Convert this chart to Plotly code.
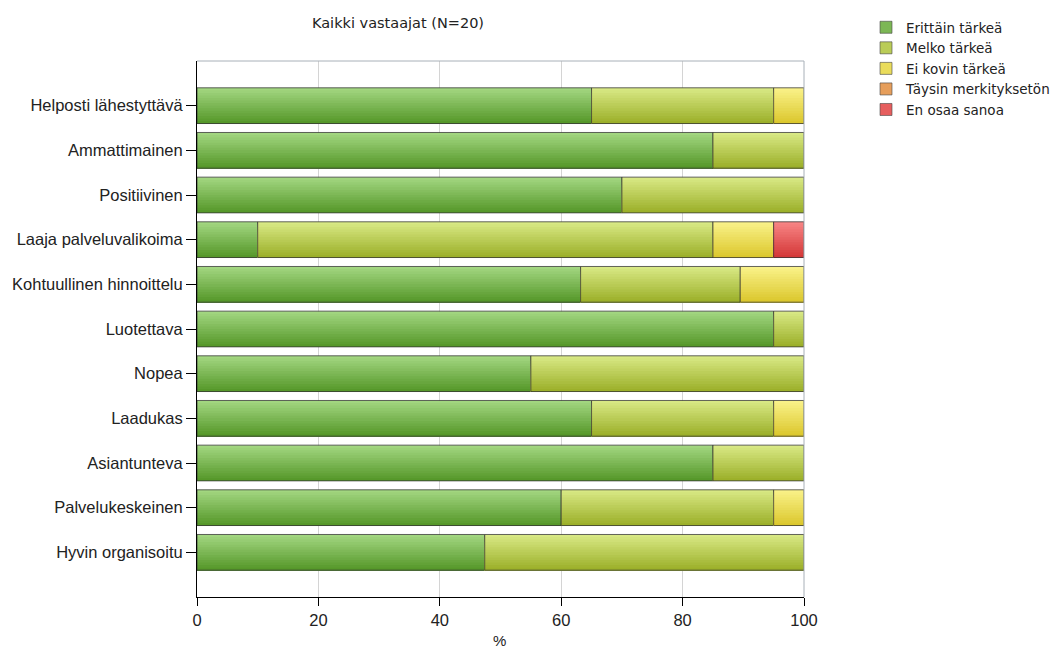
import plotly.graph_objects as go

categories = [
    "Helposti lähestyttävä", "Ammattimainen", "Positiivinen", "Laaja palveluvalikoima",
    "Kohtuullinen hinnoittelu", "Luotettava", "Nopea", "Laadukas", "Asiantunteva",
    "Palvelukeskeinen", "Hyvin organisoitu",
]
series_names = ["Erittäin tärkeä", "Melko tärkeä", "Ei kovin tärkeä", "Täysin merkityksetön", "En osaa sanoa"]
erittain = [65, 85, 70, 10, 63.2, 95, 55, 65, 85, 60, 47.4]
melko = [30, 15, 30, 75, 26.3, 5, 45, 30, 15, 35, 52.6]
ei_kovin = [5, 0, 0, 10, 10.5, 0, 0, 5, 0, 5, 0]
taysin = [0, 0, 0, 0, 0, 0, 0, 0, 0, 0, 0]
en_osaa = [0, 0, 0, 5, 0, 0, 0, 0, 0, 0, 0]
series_values = [erittain, melko, ei_kovin, taysin, en_osaa]
x_ticks = [0, 20, 40, 60, 80, 100]

# gradient colours (top, bottom) per series
top_cols = [(162, 214, 128), (216, 232, 132), (249, 241, 136), (244, 186, 122), (247, 132, 132)]
bot_cols = [(86, 152, 42), (156, 176, 42), (220, 200, 46), (216, 130, 60), (212, 56, 56)]

N_STRIPS = 14
BAR_W = 0.8
STEP = BAR_W / N_STRIPS

def mix(a, b, t):
    return "rgb(%d,%d,%d)" % tuple(round(a[k] + (b[k] - a[k]) * t) for k in range(3))

fig = go.Figure()
bases = [0.0] * len(categories)
for si, (name, vals) in enumerate(zip(series_names, series_values)):
    cur_base = list(bases)
    for k in range(N_STRIPS):
        t = k / (N_STRIPS - 1)
        fig.add_trace(go.Bar(
            y=categories, x=vals, base=cur_base, orientation="h",
            width=BAR_W - k * STEP, offset=-BAR_W / 2 + k * STEP,
            marker=dict(color=mix(top_cols[si], bot_cols[si], t), line=dict(width=0)),
            name=name, legendgroup=name, showlegend=False, hoverinfo="skip",
        ))
    # outline
    fig.add_trace(go.Bar(
        y=categories, x=[v if v > 0 else None for v in vals], base=cur_base, orientation="h",
        width=BAR_W, offset=-BAR_W / 2,
        marker=dict(color="rgba(0,0,0,0)", line=dict(width=1, color="rgba(50,50,50,0.75)")),
        name=name, legendgroup=name, showlegend=False,
    ))
    bases = [b + v for b, v in zip(bases, vals)]

# legend entries with solid colours
for si, name in enumerate(series_names):
    fig.add_trace(go.Bar(
        y=[None], x=[None], orientation="h", name=name, legendgroup=name,
        marker=dict(color=mix(top_cols[si], bot_cols[si], 0.5),
                    line=dict(width=1, color="rgba(70,70,70,0.6)")),
    ))

fig.update_layout(
    width=1064, height=650,
    margin=dict(l=197, r=260, t=61, b=53, autoexpand=False),
    barmode="overlay",
    plot_bgcolor="white", paper_bgcolor="white",
    showlegend=True,
    title=dict(text="Kaikki vastaajat (N=20)", x=398 / 1064, xanchor="center",
               y=1 - 23 / 650, yanchor="middle",
               font=dict(family="DejaVu Sans", size=14.5, color="#222222")),
    legend=dict(xref="container", yref="container", x=866 / 1064, xanchor="left",
                y=1 - 12 / 650, yanchor="top",
                font=dict(family="DejaVu Sans", size=13.5, color="#222222"),
                itemwidth=30, tracegroupgap=0, traceorder="normal",
                bgcolor="rgba(0,0,0,0)"),
    xaxis=dict(range=[0, 100], tickvals=x_ticks, ticktext=[str(v) for v in x_ticks],
               showgrid=True, gridcolor="#d4d4d4", gridwidth=1,
               showline=True, linecolor="#000000", linewidth=1, mirror=False,
               ticks="outside", ticklen=8, tickcolor="#000000",
               tickfont=dict(family="Liberation Sans", size=16.5, color="#222222"),
               zeroline=False, automargin=False),
    yaxis=dict(categoryorder="array", categoryarray=categories, range=[11, -1],
               showline=True, linecolor="#000000", linewidth=1,
               ticks="outside", ticklen=10, tickcolor="#000000",
               showgrid=False, zeroline=False, automargin=False,
               tickfont=dict(family="Liberation Sans", size=16.5, color="#222222")),
    annotations=[
        dict(text="%", xref="paper", yref="paper", x=0.499, y=0, yshift=-43,
             xanchor="center", yanchor="middle", showarrow=False,
             font=dict(family="Liberation Sans", size=15, color="#222222")),
    ],
    shapes=[
        dict(type="line", xref="paper", yref="paper", x0=0, x1=1, y0=1, y1=1,
             line=dict(color="#a8b0b8", width=1)),
        dict(type="line", xref="paper", yref="paper", x0=1, x1=1, y0=0, y1=1,
             line=dict(color="#a8b0b8", width=1)),
    ],
)

fig.write_html("out.html")
